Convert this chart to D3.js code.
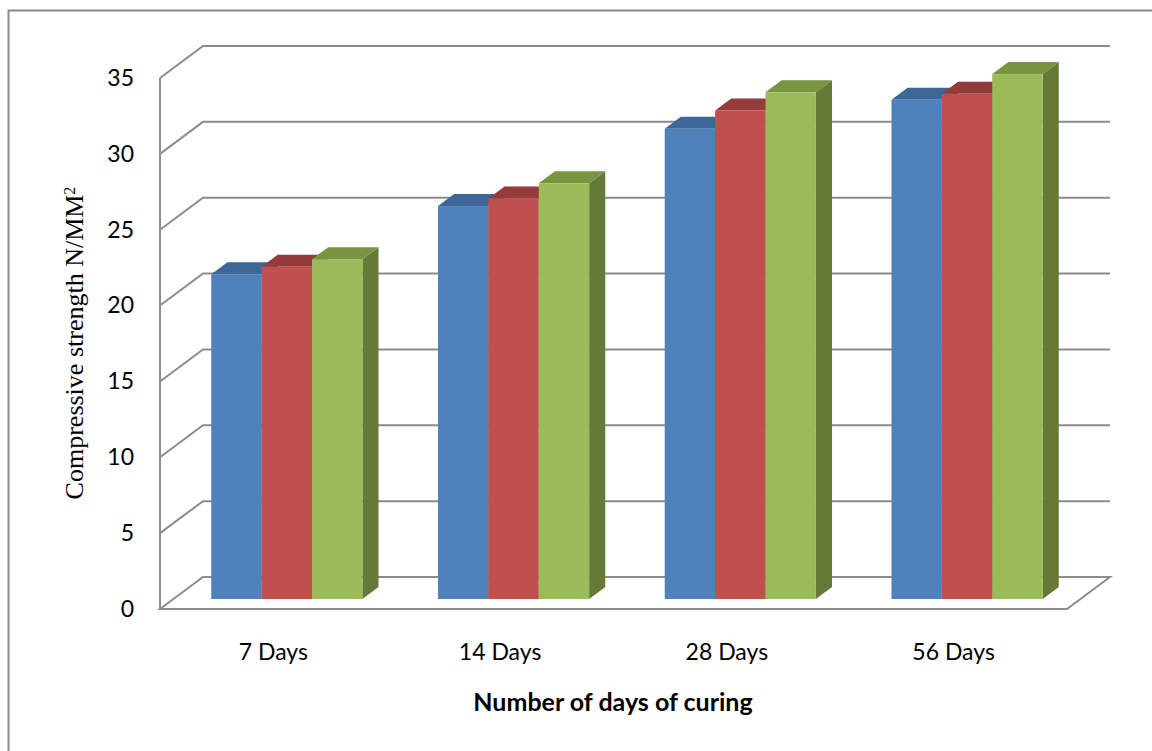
<!DOCTYPE html>
<html>
<head>
<meta charset="utf-8">
<script src="https://cdn.jsdelivr.net/npm/d3@7"></script>
<style>
  html, body { margin: 0; padding: 0; background: #ffffff; }
  svg { display: block; }
</style>
</head>
<body>
<script>
// Compressive strength by curing age, three mixes per age
const categories = ["7 Days", "14 Days", "28 Days", "56 Days"];
const seriesNames = ["Mix A", "Mix B", "Mix C"];
const mixA = [21.4, 25.9, 31.0, 32.9];
const mixB = [21.9, 26.4, 32.2, 33.3];
const mixC = [22.4, 27.4, 33.4, 34.6];
const yTicks = [0, 5, 10, 15, 20, 25, 30, 35];

const seriesValues = [mixA, mixB, mixC];
const faceColors = ["#4F81BD", "#C0504D", "#9BBB59"];
const topColors  = ["#3D6797", "#953C3A", "#78953F"];
const sideColors = ["#34587F", "#7F2E2C", "#657A37"];

const W = 1152, H = 751;
const svg = d3.select("body").append("svg").attr("width", W).attr("height", H);

// outer chart frame
svg.append("rect")
  .attr("x", 8.5).attr("y", 10.5)
  .attr("width", W + 20).attr("height", H + 20)
  .attr("fill", "none").attr("stroke", "#8a8a8a").attr("stroke-width", 2);

// front plane scales
const x = d3.scaleBand().domain(categories).range([160, 1067]).padding(0);
const y = d3.scaleLinear().domain([0, 35]).range([609, 78]);
const depth = { dx: 43, dy: -32 };
const zFront = 0.3125, zBack = 0.6875;
const groupW = x.bandwidth() * 3 / 4.5;
const s = d3.scaleBand().domain(seriesNames).range([0, groupW]);

const gridColor = "#8c8c8c";
const grid = svg.append("g").attr("fill", "none").attr("stroke", gridColor).attr("stroke-width", 2);
const xL = x.range()[0], xR = x.range()[1];

// back wall gridlines with their side-wall diagonals
yTicks.forEach(t => {
  if (t === 0) return;
  grid.append("path")
    .attr("d", `M${xL},${y(t)} L${xL + depth.dx},${y(t) + depth.dy} L${xR + depth.dx},${y(t) + depth.dy}`);
});
// floor outline
grid.append("path")
  .attr("d", `M${xL},${y(0)} L${xL + depth.dx},${y(0) + depth.dy} L${xR + depth.dx},${y(0) + depth.dy} L${xR},${y(0)} Z`);
// vertical axis line
grid.append("path").attr("d", `M${xL},${y(35)} L${xL},${y(0)}`);

// bars
const ddx = (zBack - zFront) * depth.dx, ddy = (zBack - zFront) * depth.dy;
const bars = svg.append("g");
categories.forEach((cat, i) => {
  seriesNames.forEach((name, j) => {
    const v = seriesValues[j][i];
    const x0 = x(cat) + (x.bandwidth() - groupW) / 2 + s(name) + zFront * depth.dx;
    const w = s.bandwidth();
    const yb = y(0) + zFront * depth.dy;
    const yt = y(v) + zFront * depth.dy;
    const g = bars.append("g");
    g.append("path")
      .attr("d", `M${x0 + w},${yt} L${x0 + w + ddx},${yt + ddy} L${x0 + w + ddx},${yb + ddy} L${x0 + w},${yb} Z`)
      .attr("fill", sideColors[j]);
    g.append("path")
      .attr("d", `M${x0},${yt} L${x0 + w},${yt} L${x0 + w + ddx},${yt + ddy} L${x0 + ddx},${yt + ddy} Z`)
      .attr("fill", topColors[j]);
    g.append("rect")
      .attr("x", x0).attr("y", yt).attr("width", w).attr("height", yb - yt)
      .attr("fill", faceColors[j]);
  });
});

// y tick labels
const labelFont = "Lato, 'Open Sans', sans-serif";
svg.append("g").selectAll("text").data(yTicks).join("text")
  .attr("x", 134).attr("y", d => y(d) + 2)
  .attr("text-anchor", "end").attr("dominant-baseline", "middle")
  .attr("font-family", labelFont).attr("font-size", 23).attr("fill", "#000")
  .text(d => d);

// category labels
svg.append("g").selectAll("text").data(categories).join("text")
  .attr("x", d => x(d) + x.bandwidth() / 2).attr("y", 654)
  .attr("text-anchor", "middle").attr("dominant-baseline", "middle")
  .attr("font-family", labelFont).attr("font-size", 23).attr("fill", "#000")
  .text(d => d);

// x axis title
svg.append("text")
  .attr("x", 613).attr("y", 705)
  .attr("text-anchor", "middle").attr("dominant-baseline", "middle")
  .attr("font-family", labelFont).attr("font-weight", "bold").attr("font-size", 25).attr("fill", "#000")
  .text("Number of days of curing");

// y axis title
const yt = svg.append("text")
  .attr("transform", "translate(83,343) rotate(-90)")
  .attr("text-anchor", "middle")
  .attr("font-family", "'Liberation Serif', 'Times New Roman', serif").attr("font-size", 26).attr("fill", "#000");
yt.append("tspan").text("Compressive strength N/MM");
yt.append("tspan").attr("baseline-shift", "super").attr("font-size", 16).text("2");
</script>
</body>
</html>
